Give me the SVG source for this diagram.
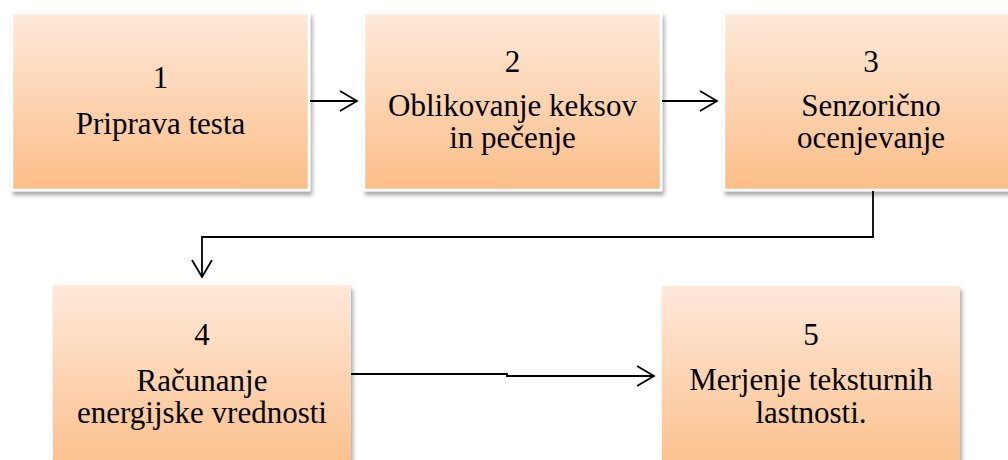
<svg xmlns="http://www.w3.org/2000/svg" width="1008" height="460" viewBox="0 0 1008 460">
  <style>
    .box { fill: url(#g); filter: url(#sh); }
    .top { stroke: #ffffff; stroke-width: 2.5; }
    .t { font-family: "Liberation Serif", "Times New Roman", serif; font-size: 31px; fill: #000; text-anchor: middle; }
    .c { fill: none; stroke: #000; stroke-width: 1.8; }
  </style>
  <defs>
    <linearGradient id="g" x1="0" y1="0" x2="0" y2="1">
      <stop offset="0" stop-color="#FFE9DA"/>
      <stop offset="1" stop-color="#FBBE88"/>
    </linearGradient>
    <filter id="sh" x="-10%" y="-10%" width="125%" height="125%">
      <feDropShadow dx="2" dy="4" stdDeviation="2.2" flood-color="#000" flood-opacity="0.35"/>
    </filter>
    <marker id="a" markerUnits="userSpaceOnUse" markerWidth="24" markerHeight="24" viewBox="-20 -12 24 24" refX="0" refY="0" orient="auto">
      <path d="M-17,-10 L0,0 L-17,10" fill="none" stroke="#000" stroke-width="1.8"/>
    </marker>
  </defs>
  <rect width="1008" height="460" fill="#ffffff"/>

  <g id="n1">
    <rect class="box top" x="12" y="13" width="297" height="177"/>
    <text class="t" x="160.5" y="88">1</text>
    <text class="t" x="160.5" y="134">Priprava testa</text>
  </g>
  <g id="n2">
    <rect class="box top" x="364" y="13" width="297" height="177"/>
    <text class="t" x="512.5" y="72">2</text>
    <text class="t" x="512.5" y="116">Oblikovanje keksov</text>
    <text class="t" x="512.5" y="148">in pečenje</text>
  </g>
  <g id="n3">
    <rect class="box top" x="724" y="13" width="296" height="177"/>
    <text class="t" x="871" y="72">3</text>
    <text class="t" x="871" y="116">Senzorično</text>
    <text class="t" x="871" y="148">ocenjevanje</text>
  </g>
  <g id="n4">
    <rect class="box" x="53" y="285" width="298" height="190"/>
    <text class="t" x="202" y="345">4</text>
    <text class="t" x="202" y="391">Računanje</text>
    <text class="t" x="202" y="423">energijske vrednosti</text>
  </g>
  <g id="n5">
    <rect class="box" x="662" y="286" width="298" height="190"/>
    <text class="t" x="811" y="345">5</text>
    <text class="t" x="811" y="390">Merjenje teksturnih</text>
    <text class="t" x="811" y="423">lastnosti.</text>
  </g>

  <g id="connectors">
    <path class="c" d="M310,101 H357" marker-end="url(#a)"/>
    <path class="c" d="M662,101 H717" marker-end="url(#a)"/>
    <path class="c" d="M873,191 V237 H202 V277" marker-end="url(#a)"/>
    <path class="c" d="M351,374 H507 V376 H654" marker-end="url(#a)"/>
  </g>
</svg>
